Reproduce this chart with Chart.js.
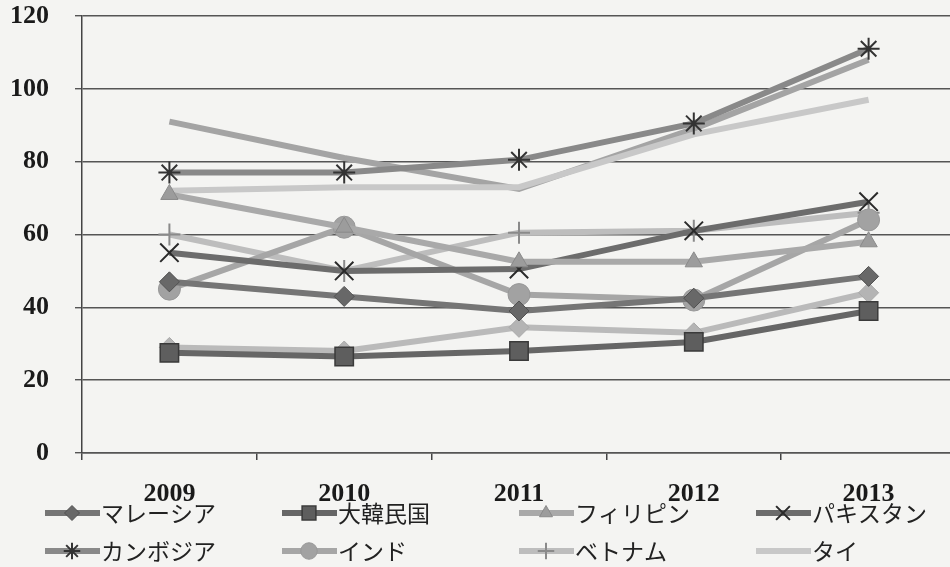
<!DOCTYPE html>
<html>
<head>
<meta charset="utf-8">
<script src="https://cdn.jsdelivr.net/npm/chart.js@4"></script>
<style>
  html, body { margin: 0; padding: 0; background: #f4f4f2; overflow: hidden; }
</style>
</head>
<body>
<canvas id="chart" width="958" height="567"></canvas>
<script>
const years = ['2009', '2010', '2011', '2012', '2013'];
const yTicks = [0, 20, 40, 60, 80, 100, 120];

const malaysia = [47, 43, 39, 42.5, 48.5];
const korea = [27.5, 26.5, 28, 30.5, 39];
const philippines = [71, 62, 52.5, 52.5, 58];
const pakistan = [55, 50, 50.5, 61, 69];
const cambodia = [77, 77, 80.5, 90.5, 111];
const india = [45, 62, 43.5, 42, 64];
const vietnam = [60, 50, 60.5, 61, 66];
const thai = [72, 73, 73, 87.5, 97];
// two more lines show in the plot but have no legend entry
const extraA = [91, 81, 72.5, 89, 108];
const extraB = [29, 28, 34.5, 33, 44];

function series(label, data, line, style, radius, fill, border, bw, inLegend = true) {
  return {
    label, data, inLegend,
    borderColor: line,
    borderWidth: 6,
    pointStyle: style || 'circle',
    pointRadius: style ? radius : 0,
    pointBackgroundColor: fill,
    pointBorderColor: border,
    pointBorderWidth: bw,
    tension: 0,
  };
}

// legend with a short line plus the marker, four per row
const lineLegend = {
  id: 'lineLegend',
  afterDraw(chart) {
    const ctx = chart.ctx;
    const items = chart.data.datasets.filter((d) => d.inLegend);
    ctx.save();
    ctx.font = '23px "Noto Sans CJK JP"';
    ctx.textBaseline = 'middle';
    items.forEach((ds, i) => {
      const x = 45 + (i % 4) * 237;
      const y = chart.height - 54 + Math.floor(i / 4) * 38;
      ctx.strokeStyle = ds.borderColor;
      ctx.lineWidth = ds.borderWidth;
      ctx.beginPath();
      ctx.moveTo(x, y);
      ctx.lineTo(x + 55, y);
      ctx.stroke();
      if (ds.pointRadius > 0) {
        ctx.fillStyle = ds.pointBackgroundColor;
        ctx.strokeStyle = ds.pointBorderColor;
        ctx.lineWidth = ds.pointBorderWidth;
        Chart.helpers.drawPoint(ctx, {
          pointStyle: ds.pointStyle,
          radius: ds.pointRadius * 0.75,
          borderWidth: ds.pointBorderWidth,
          rotation: 0,
        }, x + 27, y);
      }
      ctx.fillStyle = '#222';
      ctx.fillText(ds.label, x + 56, y);
    });
    ctx.restore();
  },
};

const tickFont = { family: 'Liberation Serif', size: 26, weight: 'bold' };

new Chart(document.getElementById('chart'), {
  type: 'line',
  data: {
    labels: years,
    datasets: [
      series('マレーシア', malaysia, '#757575', 'rectRot', 10, '#686868', '#505050', 1),
      series('大韓民国', korea, '#666666', 'rect', 13, '#5e5e5e', '#3a3a3a', 1.5),
      series('フィリピン', philippines, '#a9a9a9', 'triangle', 10, '#9c9c9c', '#8a8a8a', 1),
      series('パキスタン', pakistan, '#6c6c6c', 'crossRot', 13, '#333333', '#2a2a2a', 2),
      series('カンボジア', cambodia, '#898989', 'star', 11, '#333333', '#333333', 2),
      series('インド', india, '#a6a6a6', 'circle', 11, '#a2a2a2', '#989898', 1),
      series('ベトナム', vietnam, '#bdbdbd', 'cross', 11, '#8a8a8a', '#8a8a8a', 2),
      series('タイ', thai, '#c8c8c8', null, 0, '#c8c8c8', '#c8c8c8', 0),
      series('', extraA, '#a4a4a4', null, 0, '#a4a4a4', '#a4a4a4', 0, false),
      series('', extraB, '#bababa', 'rectRot', 10, '#b4b4b4', '#a8a8a8', 1, false),
    ],
  },
  options: {
    responsive: false,
    animation: false,
    devicePixelRatio: 1,
    layout: { autoPadding: false, padding: { left: 10, right: 2, top: 0, bottom: 57 } },
    plugins: {
      legend: { display: false },
      tooltip: { enabled: false },
    },
    scales: {
      x: {
        offset: true,
        grid: { offset: true, drawOnChartArea: false, tickLength: 7, color: '#444', lineWidth: 1.5 },
        border: { color: '#555', width: 1.5 },
        ticks: { padding: 19, color: '#1a1a1a', font: tickFont },
        afterFit: (s) => { s.height = 57; s.paddingLeft = 0; s.paddingRight = 0; },
      },
      y: {
        min: 0,
        max: 120,
        afterBuildTicks: (s) => { s.ticks = yTicks.map((v) => ({ value: v })); },
        grid: { color: '#555', lineWidth: 1.4, tickLength: 7 },
        border: { color: '#444', width: 1.5 },
        ticks: { padding: 26, color: '#1a1a1a', font: tickFont },
        afterFit: (s) => { s.width = 72; s.paddingTop = 16; s.paddingBottom = 0; },
      },
    },
  },
  plugins: [lineLegend],
});
</script>
</body>
</html>
